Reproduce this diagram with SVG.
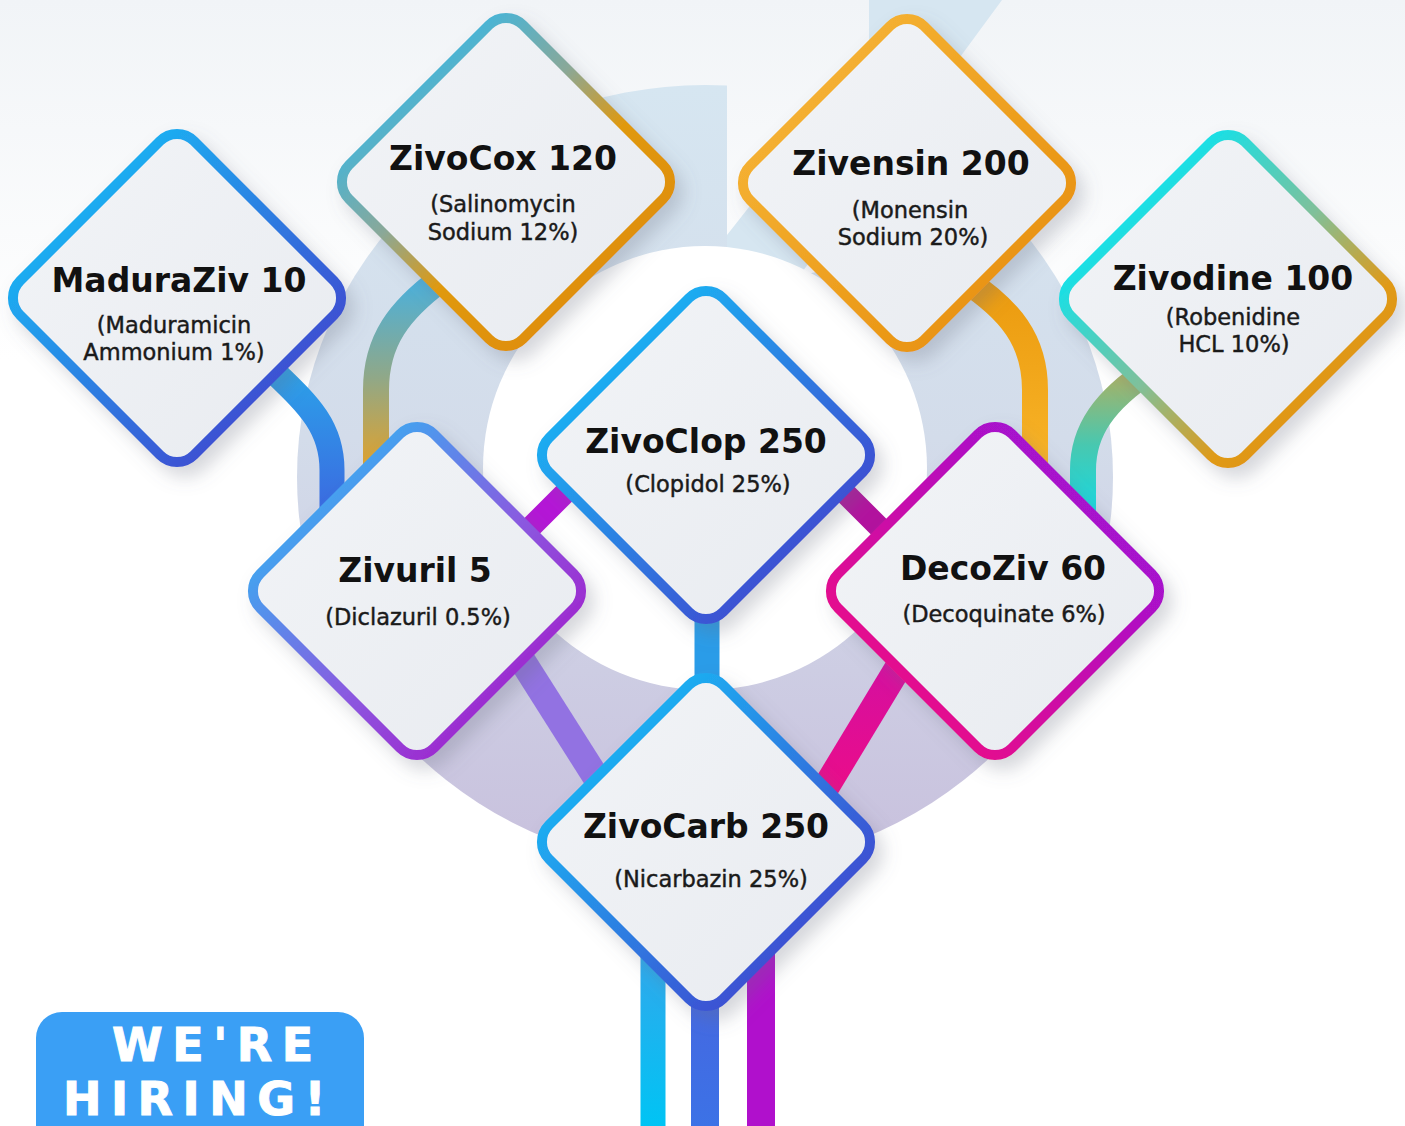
<svg xmlns="http://www.w3.org/2000/svg" width="1405" height="1126" viewBox="0 0 1405 1126">
<style>
.t{font-family:"DejaVu Sans","Liberation Sans",sans-serif;font-weight:bold;font-size:33px;fill:#111;text-anchor:middle}
.s{font-family:"DejaVu Sans","Liberation Sans",sans-serif;font-size:22.5px;fill:#1a1a1a;stroke:#1a1a1a;stroke-width:0.45px;text-anchor:middle}
.d{fill:url(#fillg);stroke-width:10;filter:url(#sh)}
.tube{fill:none}
.hire{font-family:"DejaVu Sans","Liberation Sans",sans-serif;font-weight:bold;font-size:46px;fill:#fff;stroke:#fff;stroke-width:1px;letter-spacing:9.5px}
</style>
<defs>
<linearGradient id="bg" gradientUnits="userSpaceOnUse" x1="0" y1="0" x2="0" y2="360"><stop offset="0" stop-color="#f1f4f7"/><stop offset="1" stop-color="#ffffff"/></linearGradient>
<linearGradient id="ringg" gradientUnits="userSpaceOnUse" x1="0" y1="85" x2="0" y2="870"><stop offset="0" stop-color="#d6e6f1"/><stop offset="0.45" stop-color="#d3dcea"/><stop offset="1" stop-color="#c8c0dd"/></linearGradient>
<linearGradient id="fillg" x1="0" y1="0" x2="1" y2="1"><stop offset="0" stop-color="#f2f4f7"/><stop offset="1" stop-color="#e8ebf0"/></linearGradient>
<linearGradient id="gBlue" x1="0" y1="0" x2="1" y2="1"><stop offset="0.2" stop-color="#1cb0f2"/><stop offset="0.85" stop-color="#4046cf"/></linearGradient>
<linearGradient id="gCox" x1="0.1" y1="0" x2="0.9" y2="0.9"><stop offset="0.12" stop-color="#36b8e8"/><stop offset="0.42" stop-color="#8aa898"/><stop offset="0.62" stop-color="#e0990f"/><stop offset="1" stop-color="#df8a08"/></linearGradient>
<linearGradient id="gVen" x1="0" y1="0" x2="1" y2="1"><stop offset="0" stop-color="#f8ba3c"/><stop offset="1" stop-color="#e58a08"/></linearGradient>
<linearGradient id="gDine" x1="0" y1="0" x2="1" y2="1"><stop offset="0.2" stop-color="#10e2ec"/><stop offset="0.5" stop-color="#80c09a"/><stop offset="0.72" stop-color="#e09a18"/><stop offset="1" stop-color="#de8a08"/></linearGradient>
<linearGradient id="gUril" x1="0" y1="0" x2="1" y2="1"><stop offset="0.15" stop-color="#36b0f2"/><stop offset="0.55" stop-color="#8a5ae0"/><stop offset="0.9" stop-color="#a614c8"/></linearGradient>
<linearGradient id="gDeco" x1="1" y1="0" x2="0" y2="1"><stop offset="0.2" stop-color="#a412d0"/><stop offset="0.85" stop-color="#ec0c86"/></linearGradient>
<linearGradient id="tm" gradientUnits="userSpaceOnUse" x1="0" y1="360" x2="0" y2="520"><stop offset="0" stop-color="#2aa6ea"/><stop offset="1" stop-color="#3c66e0"/></linearGradient>
<linearGradient id="tc" gradientUnits="userSpaceOnUse" x1="0" y1="285" x2="0" y2="470"><stop offset="0" stop-color="#4eb0d8"/><stop offset="0.5" stop-color="#90a888"/><stop offset="1" stop-color="#e3a22a"/></linearGradient>
<linearGradient id="tv" gradientUnits="userSpaceOnUse" x1="0" y1="280" x2="0" y2="470"><stop offset="0" stop-color="#eb9a0e"/><stop offset="1" stop-color="#f8b428"/></linearGradient>
<linearGradient id="td" gradientUnits="userSpaceOnUse" x1="0" y1="370" x2="0" y2="520"><stop offset="0" stop-color="#b0b060"/><stop offset="0.5" stop-color="#48c8b0"/><stop offset="1" stop-color="#10dce8"/></linearGradient>
<linearGradient id="tpk" gradientUnits="userSpaceOnUse" x1="0" y1="640" x2="0" y2="800"><stop offset="0" stop-color="#d010a4"/><stop offset="1" stop-color="#ec0c88"/></linearGradient>
<linearGradient id="tb1" gradientUnits="userSpaceOnUse" x1="0" y1="920" x2="0" y2="1126"><stop offset="0" stop-color="#3aa2ea"/><stop offset="1" stop-color="#00c4f4"/></linearGradient>
<linearGradient id="tb2" gradientUnits="userSpaceOnUse" x1="0" y1="920" x2="0" y2="1126"><stop offset="0" stop-color="#4a62de"/><stop offset="1" stop-color="#3c72e6"/></linearGradient>
<filter id="sh" x="-25%" y="-25%" width="150%" height="150%"><feDropShadow dx="8" dy="10" stdDeviation="9" flood-color="#6a7080" flood-opacity="0.28"/></filter>
<clipPath id="notch"><path clip-rule="evenodd" d="M0 0H1405V1126H0Z M727 -1 L1405 -1 L1405 200 L1050 230 L800 275 L727 275 Z"/></clipPath>
<path id="dia" d="M16.97 -157.03 L157.03 -16.97 A24 24 0 0 1 157.03 16.97 L16.97 157.03 A24 24 0 0 1 -16.97 157.03 L-157.03 16.97 A24 24 0 0 1 -157.03 -16.97 L-16.97 -157.03 A24 24 0 0 1 16.97 -157.03 Z"/>
</defs>

<g id="background">
<rect width="1405" height="1126" fill="url(#bg)"/>
<polygon points="869,0 1002,0 800,275 727,275 727,235 869,55" fill="#d6e6f1"/>
<ellipse cx="705" cy="477" rx="408" ry="392" fill="url(#ringg)" clip-path="url(#notch)"/>
<circle cx="705" cy="468" r="222" fill="#ffffff"/>
</g>

<g id="connectors" class="tube">
<path d="M258 356 C300 398 332 420 332 470 L332 545" stroke="url(#tm)" stroke-width="25"/>
<path d="M440 280 C400 310 376 340 376 390 L376 485" stroke="url(#tc)" stroke-width="26"/>
<path d="M965 280 C1010 310 1035 340 1035 390 L1035 485" stroke="url(#tv)" stroke-width="26"/>
<path d="M1150 370 C1105 400 1083 430 1083 470 L1083 535" stroke="url(#td)" stroke-width="26"/>
<line x1="580" y1="478" x2="515" y2="543" stroke="#b416d6" stroke-width="22"/>
<line x1="830" y1="478" x2="895" y2="543" stroke="#b2129e" stroke-width="22"/>
<line x1="707" y1="600" x2="707" y2="700" stroke="#2a9ce8" stroke-width="25"/>
<line x1="490" y1="610" x2="620" y2="815" stroke="#9272e2" stroke-width="27"/>
<line x1="930" y1="615" x2="800" y2="830" stroke="url(#tpk)" stroke-width="27"/>
<line x1="653" y1="900" x2="653" y2="1126" stroke="url(#tb1)" stroke-width="25"/>
<line x1="705" y1="900" x2="705" y2="1126" stroke="url(#tb2)" stroke-width="28"/>
<line x1="761" y1="900" x2="761" y2="1126" stroke="#b010cc" stroke-width="28"/>
</g>

<g id="node-maduraziv">
<use href="#dia" x="177" y="298" class="d" stroke="url(#gBlue)"/>
<text class="t" x="179" y="292">MaduraZiv 10</text>
<text class="s" x="174" y="333">(Maduramicin</text>
<text class="s" x="174" y="360">Ammonium 1%)</text>
</g>
<g id="node-zivocox">
<use href="#dia" x="506" y="182" class="d" stroke="url(#gCox)"/>
<text class="t" x="503" y="170">ZivoCox 120</text>
<text class="s" x="503" y="212">(Salinomycin</text>
<text class="s" x="503" y="240">Sodium 12%)</text>
</g>
<g id="node-zivensin">
<use href="#dia" x="907" y="183" class="d" stroke="url(#gVen)"/>
<text class="t" x="911" y="175">Zivensin 200</text>
<text class="s" x="910" y="218">(Monensin</text>
<text class="s" x="913" y="245">Sodium 20%)</text>
</g>
<g id="node-zivodine">
<use href="#dia" x="1228" y="299" class="d" stroke="url(#gDine)"/>
<text class="t" x="1233" y="290">Zivodine 100</text>
<text class="s" x="1233" y="325">(Robenidine</text>
<text class="s" x="1234" y="352">HCL 10%)</text>
</g>
<g id="node-zivoclop">
<use href="#dia" x="706" y="455" class="d" stroke="url(#gBlue)"/>
<text class="t" x="706" y="453">ZivoClop 250</text>
<text class="s" x="708" y="492">(Clopidol 25%)</text>
</g>
<g id="node-zivuril">
<use href="#dia" x="417" y="591" class="d" stroke="url(#gUril)"/>
<text class="t" x="415" y="582">Zivuril 5</text>
<text class="s" x="418" y="625">(Diclazuril 0.5%)</text>
</g>
<g id="node-decoziv">
<use href="#dia" x="995" y="591" class="d" stroke="url(#gDeco)"/>
<text class="t" x="1003" y="580">DecoZiv 60</text>
<text class="s" x="1004" y="622">(Decoquinate 6%)</text>
</g>
<g id="node-zivocarb">
<use href="#dia" x="706" y="842" class="d" stroke="url(#gBlue)"/>
<text class="t" x="706" y="838">ZivoCarb 250</text>
<text class="s" x="711" y="887">(Nicarbazin 25%)</text>
</g>

<g id="hiring-badge">
<rect x="36" y="1012" width="328" height="150" rx="26" fill="#3a9ff5"/>
<text class="hire" x="112" y="1061">WE'RE</text>
<text class="hire" x="63" y="1115">HIRING!</text>
</g>
</svg>
